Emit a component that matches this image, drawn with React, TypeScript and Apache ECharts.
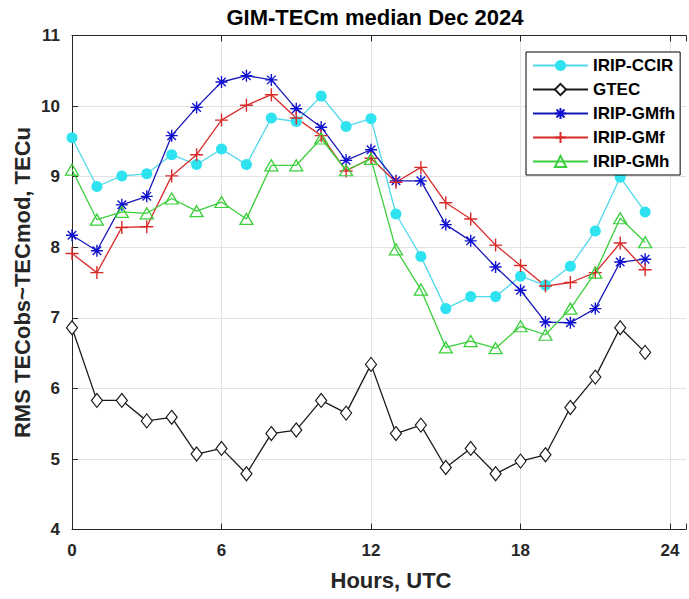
import React, { useEffect, useRef } from "react";
import * as echarts from "echarts";

// Hour of day (UTC)
const hours: number[] = [0, 1, 2, 3, 4, 5, 6, 7, 8, 9, 10, 11, 12, 13, 14, 15, 16, 17, 18, 19, 20, 21, 22, 23];

// RMS deviation, TECu
const iripCcir: number[] = [9.55, 8.86, 9.01, 9.04, 9.31, 9.17, 9.39, 9.17, 9.83, 9.78, 10.14, 9.71, 9.82, 8.47, 7.87, 7.13, 7.3, 7.3, 7.59, 7.46, 7.73, 8.23, 8.99, 8.5];
const gtec: number[] = [6.86, 5.83, 5.83, 5.54, 5.59, 5.07, 5.15, 4.79, 5.36, 5.41, 5.83, 5.65, 6.34, 5.36, 5.48, 4.88, 5.15, 4.79, 4.97, 5.06, 5.73, 6.16, 6.86, 6.51];
const iripGmfh: number[] = [8.17, 7.95, 8.6, 8.72, 9.58, 9.98, 10.34, 10.43, 10.37, 9.96, 9.7, 9.23, 9.38, 8.94, 8.94, 8.32, 8.09, 7.72, 7.39, 6.94, 6.93, 7.13, 7.79, 7.83];
const iripGmf: number[] = [7.91, 7.64, 8.28, 8.29, 9.01, 9.31, 9.8, 10.01, 10.16, 9.83, 9.58, 9.08, 9.26, 8.92, 9.13, 8.63, 8.4, 8.03, 7.74, 7.45, 7.5, 7.64, 8.06, 7.68];
const iripGmh: number[] = [9.1, 8.39, 8.5, 8.48, 8.69, 8.51, 8.64, 8.4, 9.16, 9.16, 9.54, 9.09, 9.25, 7.97, 7.4, 6.58, 6.67, 6.57, 6.88, 6.76, 7.13, 7.64, 8.41, 8.07];

const seriesNames: string[] = ["IRIP-CCIR", "GTEC", "IRIP-GMfh", "IRIP-GMf", "IRIP-GMh"];

const titleText = "GIM-TECm median Dec 2024";
const xName = "Hours, UTC";
const yName = "RMS TECobs~TECmod, TECu";

const FONT = "'Liberation Sans', Arial, Helvetica, sans-serif";
const AXIS_COLOR = "#262626";
const GRID_COLOR = "#e2e2e2";

// 8-spoke asterisk and plus marker outlines
const ASTERISK = "path://M0,5L10,5M5,0L5,10M1.46,1.46L8.54,8.54M1.46,8.54L8.54,1.46";
const PLUS = "path://M0,5L10,5M5,0L5,10";

const pairs = (ys: number[]) => hours.map((h, i) => [h, ys[i]]);

export default function App() {
  const ref = useRef<HTMLDivElement>(null);

  useEffect(() => {
    document.body.style.margin = "0";
    if (!ref.current) return;
    const chart = echarts.init(ref.current, undefined, { renderer: "svg" });

    const tickCommon = {
      inside: true,
      length: 6,
      lineStyle: { color: AXIS_COLOR, width: 1 },
    };

    // the hour axis runs past 24 up to the right edge of the canvas
    const xMax = 24.64;

    chart.setOption({
      animation: false,
      backgroundColor: "#ffffff",
      textStyle: { fontFamily: FONT },
      grid: { left: 72, top: 35.4, right: 0, height: 494.2, containLabel: false },
      xAxis: [
        {
          type: "value",
          min: 0,
          max: xMax,
          interval: 6,
          axisLine: { show: true, lineStyle: { color: AXIS_COLOR, width: 1 } },
          axisTick: tickCommon,
          axisLabel: {
            margin: 12,
            fontSize: 17,
            fontWeight: "bold",
            fontFamily: FONT,
            color: AXIS_COLOR,
            formatter: (v: number) => (v % 6 === 0 ? String(v) : ""),
          },
          splitLine: { show: true, showMaxLine: false, lineStyle: { color: GRID_COLOR, width: 1 } },
        },
        {
          type: "value",
          position: "top",
          min: 0,
          max: xMax,
          interval: 6,
          axisLine: { show: true, onZero: false, lineStyle: { color: AXIS_COLOR, width: 1 } },
          axisTick: tickCommon,
          axisLabel: { show: false },
          splitLine: { show: false },
        },
      ],
      yAxis: {
        type: "value",
        min: 4,
        max: 11,
        interval: 1,
        axisLine: { show: true, lineStyle: { color: AXIS_COLOR, width: 1 } },
        axisTick: tickCommon,
        axisLabel: {
          margin: 12,
          fontSize: 17,
          fontWeight: "bold",
          fontFamily: FONT,
          color: AXIS_COLOR,
        },
        splitLine: { show: true, lineStyle: { color: GRID_COLOR, width: 1 } },
      },
      legend: {
        orient: "vertical",
        left: 526,
        top: 52,
        data: seriesNames,
        itemWidth: 55,
        itemHeight: 14,
        itemGap: 7,
        padding: [5, 5, 5, 6],
        backgroundColor: "#ffffff",
        borderColor: "#000000",
        borderWidth: 1,
        borderRadius: 0,
        textStyle: {
          fontSize: 17,
          fontWeight: "bold",
          fontFamily: FONT,
          color: "#000000",
          lineHeight: 17,
        },
      },
      graphic: [
        {
          type: "text",
          x: 375,
          y: 17.2,
          style: {
            text: titleText,
            fontSize: 22,
            fontWeight: "bold",
            fontFamily: FONT,
            fill: "#000000",
            align: "center",
            verticalAlign: "middle",
          },
        },
        {
          type: "text",
          x: 391,
          y: 580,
          style: {
            text: xName,
            fontSize: 22,
            fontWeight: "bold",
            fontFamily: FONT,
            fill: "#262626",
            align: "center",
            verticalAlign: "middle",
          },
        },
        {
          type: "text",
          x: 22,
          y: 282.5,
          rotation: Math.PI / 2,
          style: {
            text: yName,
            fontSize: 22,
            fontWeight: "bold",
            fontFamily: FONT,
            fill: "#262626",
            align: "center",
            verticalAlign: "middle",
          },
        },
      ],
      series: [
        {
          name: seriesNames[0],
          type: "line",
          data: pairs(iripCcir),
          symbol: "circle",
          symbolSize: 11,
          lineStyle: { color: "#4fd9ea", width: 1.3 },
          itemStyle: { color: "#2ee2f0", borderWidth: 0 },
        },
        {
          name: seriesNames[1],
          type: "line",
          data: pairs(gtec),
          symbol: "diamond",
          symbolSize: [11, 14],
          lineStyle: { color: "#1a1a1a", width: 1.3 },
          itemStyle: { color: "#ffffff", borderColor: "#1a1a1a", borderWidth: 1.2 },
        },
        {
          name: seriesNames[2],
          type: "line",
          data: pairs(iripGmfh),
          symbol: ASTERISK,
          symbolSize: 12,
          lineStyle: { color: "#1818b8", width: 1.3 },
          itemStyle: { color: "rgba(0,0,0,0)", borderColor: "#1010d0", borderWidth: 1.4 },
        },
        {
          name: seriesNames[3],
          type: "line",
          data: pairs(iripGmf),
          symbol: PLUS,
          symbolSize: 13,
          lineStyle: { color: "#d92a2a", width: 1.3 },
          itemStyle: { color: "rgba(0,0,0,0)", borderColor: "#d92a2a", borderWidth: 1.4 },
        },
        {
          name: seriesNames[4],
          type: "line",
          data: pairs(iripGmh),
          symbol: "triangle",
          symbolSize: [13, 11],
          lineStyle: { color: "#3ccf3c", width: 1.3 },
          itemStyle: { color: "rgba(0,0,0,0)", borderColor: "#3ccf3c", borderWidth: 1.3 },
        },
      ],
    });

    return () => chart.dispose();
  }, []);

  return <div ref={ref} style={{ width: 689, height: 599 }} />;
}
